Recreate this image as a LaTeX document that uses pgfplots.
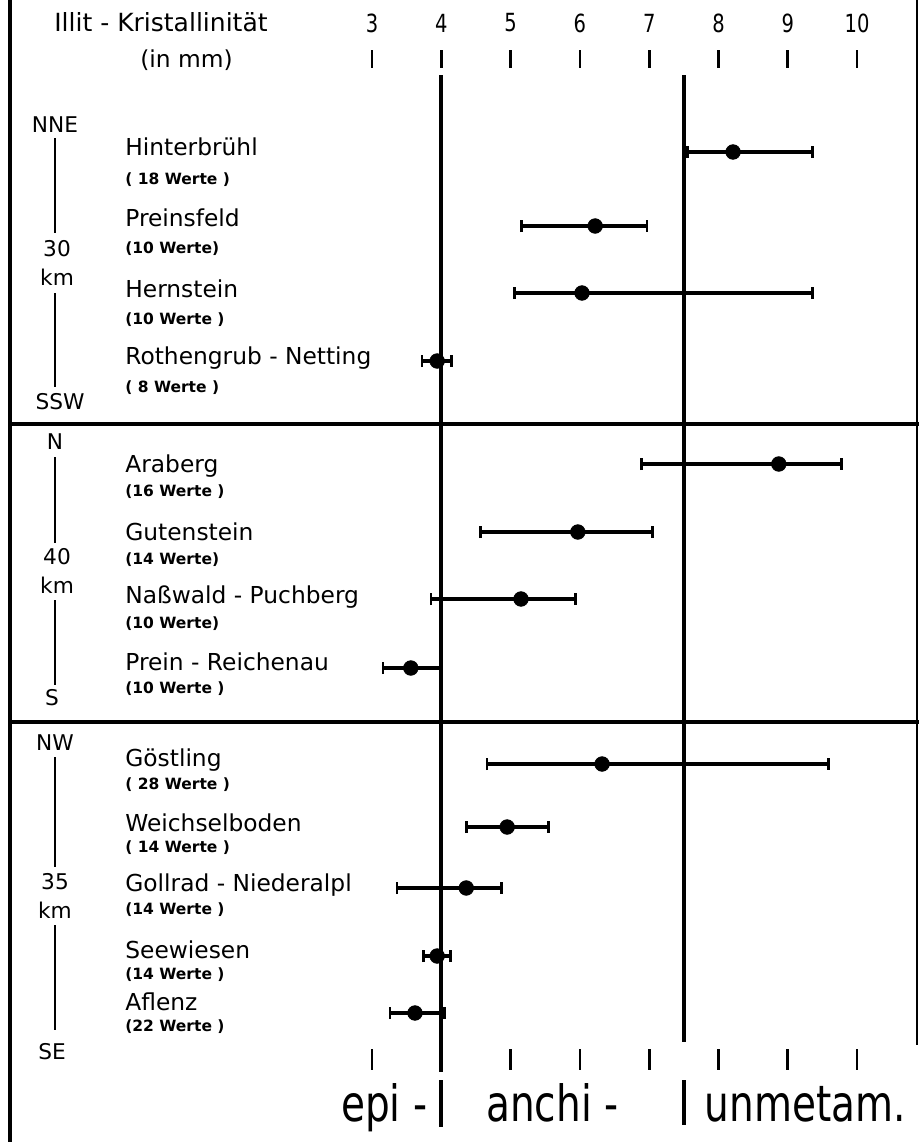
\documentclass[border=0pt]{standalone}
\usepackage{fontspec}
\setmainfont{DejaVu Sans}
\newfontfamily\cond{DejaVu Sans}[FakeStretch=0.78]
\usepackage{pgfplots}
\pgfplotsset{compat=1.18}
\usepackage{pgfplotstable}
\pgfplotstableread{
y m lo hi
152 8.21 7.55 9.36
226 6.22 5.16 6.97
293 6.03 5.06 9.36
361 3.94 3.72 4.15
464 8.87 6.89 9.77
532 5.97 4.57 7.05
599 5.15 3.85 5.94
668 3.56 3.16 4.00
764 6.32 4.66 9.59
827 4.95 4.36 5.55
888 4.36 3.36 4.87
956 3.94 3.74 4.13
1013 3.62 3.26 4.05
}\data
\begin{document}
\begin{tikzpicture}
\begin{axis}[scale only axis, width=551.4pt, height=685.2pt,
  xmin=-2.368, xmax=10.893, ymin=0, ymax=1142, y dir=reverse,
  hide axis, clip=false]
\coordinate (BL) at (axis cs:-2.368,1142);
\coordinate (TR) at (axis cs:10.893,0);
% frame
\addplot[black, line width=2.4pt] coordinates {(-2.224,0) (-2.224,1142)};
\addplot[black, line width=1.6pt] coordinates {(10.864,0) (10.864,1045)};
\addplot[black, line width=2.2pt] coordinates {(-2.224,424) (10.893,424)};
\addplot[black, line width=2.2pt] coordinates {(-2.224,722) (10.893,722)};
% boundary lines
\addplot[black, line width=2.2pt] coordinates {(4,75) (4,1072)};
\addplot[black, line width=2.2pt] coordinates {(4,1080) (4,1127)};
\addplot[black, line width=2pt] coordinates {(7.5,75) (7.5,1042)};
\addplot[black, line width=2pt] coordinates {(7.5,1080) (7.5,1125)};
% ticks
\pgfplotsinvokeforeach{3,...,10}{
  \addplot[black, line width=1.6pt] coordinates {(#1,50) (#1,68)};
  \addplot[black, line width=1.6pt] coordinates {(#1,1049) (#1,1070)};
  \node[font=\cond\fontsize{15}{16}\selectfont] at (axis cs:#1,23) {#1};
}
% direction lines
\addplot[black, line width=1.2pt] coordinates {(-1.574,138) (-1.574,233)};
\addplot[black, line width=1.2pt] coordinates {(-1.574,293) (-1.574,387)};
\addplot[black, line width=1.2pt] coordinates {(-1.574,457) (-1.574,543)};
\addplot[black, line width=1.2pt] coordinates {(-1.574,600) (-1.574,685)};
\addplot[black, line width=1.2pt] coordinates {(-1.574,757) (-1.574,867)};
\addplot[black, line width=1.2pt] coordinates {(-1.574,925) (-1.574,1030)};
% data
\addplot[black, only marks, mark=*, mark size=4.4pt,
  error bars/.cd, x dir=both, x explicit,
  error bar style={line width=2.1pt},
  error mark options={rotate=90, black, line width=1.6pt, mark size=3.6pt}]
  table[x=m, y=y, x error plus expr=\thisrow{hi}-\thisrow{m},
        x error minus expr=\thisrow{m}-\thisrow{lo}] {\data};
% header
\node[font=\fontsize{15}{16}\selectfont] at (axis cs:-0.045,22) {Illit - Kristallinität};
\node[font=\fontsize{14}{16}\selectfont] at (axis cs:0.323,60) {(in mm)};
% left labels
\begin{scope}[every node/.style={font=\fontsize{13}{15}\selectfont}]
\node at (axis cs:-1.574,125) {NNE};
\node at (axis cs:-1.545,249) {30};
\node at (axis cs:-1.545,277) {km};
\node at (axis cs:-1.502,402) {SSW};
\node at (axis cs:-1.574,442) {N};
\node at (axis cs:-1.545,557) {40};
\node at (axis cs:-1.545,585) {km};
\node at (axis cs:-1.618,698) {S};
\node at (axis cs:-1.574,743) {NW};
\node at (axis cs:-1.574,882) {35};
\node at (axis cs:-1.574,910) {km};
\node at (axis cs:-1.618,1052) {SE};
\end{scope}
% site names
\begin{scope}[every node/.style={anchor=west, inner sep=0pt, font=\fontsize{14}{16}\selectfont}]
\node at (axis cs:-0.564,147) {Hinterbrühl};
\node at (axis cs:-0.564,218) {Preinsfeld};
\node at (axis cs:-0.564,289) {Hernstein};
\node at (axis cs:-0.564,358) {Rothengrub - Netting};
\node at (axis cs:-0.564,466) {Araberg};
\node at (axis cs:-0.564,532) {Gutenstein};
\node at (axis cs:-0.564,597) {Naßwald - Puchberg};
\node at (axis cs:-0.564,662) {Prein - Reichenau};
\node at (axis cs:-0.564,760) {Göstling};
\node at (axis cs:-0.564,823) {Weichselboden};
\node at (axis cs:-0.564,885) {Gollrad - Niederalpl};
\node at (axis cs:-0.564,950) {Seewiesen};
\node at (axis cs:-0.564,1002) {Aflenz};
\end{scope}
\begin{scope}[every node/.style={anchor=west, inner sep=0pt, font=\fontsize{9.3}{10}\selectfont\bfseries}]
\node at (axis cs:-0.564,180) {( 18 Werte )};
\node at (axis cs:-0.564,249) {(10 Werte)};
\node at (axis cs:-0.564,320) {(10 Werte )};
\node at (axis cs:-0.564,388) {( 8 Werte )};
\node at (axis cs:-0.564,492) {(16 Werte )};
\node at (axis cs:-0.564,560) {(14 Werte)};
\node at (axis cs:-0.564,624) {(10 Werte)};
\node at (axis cs:-0.564,689) {(10 Werte )};
\node at (axis cs:-0.564,785) {( 28 Werte )};
\node at (axis cs:-0.564,848) {( 14 Werte )};
\node at (axis cs:-0.564,910) {(14 Werte )};
\node at (axis cs:-0.564,975) {(14 Werte )};
\node at (axis cs:-0.564,1027) {(22 Werte )};
\end{scope}
% bottom zone labels
\begin{scope}[every node/.style={inner sep=0pt, font=\cond\fontsize{30}{31}\selectfont}]
\node[anchor=base east] at (axis cs:3.80,1121) {epi -};
\node[anchor=base west] at (axis cs:4.645,1121) {anchi -};
\node[anchor=base west] at (axis cs:7.80,1121) {unmetam.};
\end{scope}
\end{axis}
\pgfresetboundingbox
\path[use as bounding box] (BL) rectangle (TR);
\end{tikzpicture}
\end{document}
